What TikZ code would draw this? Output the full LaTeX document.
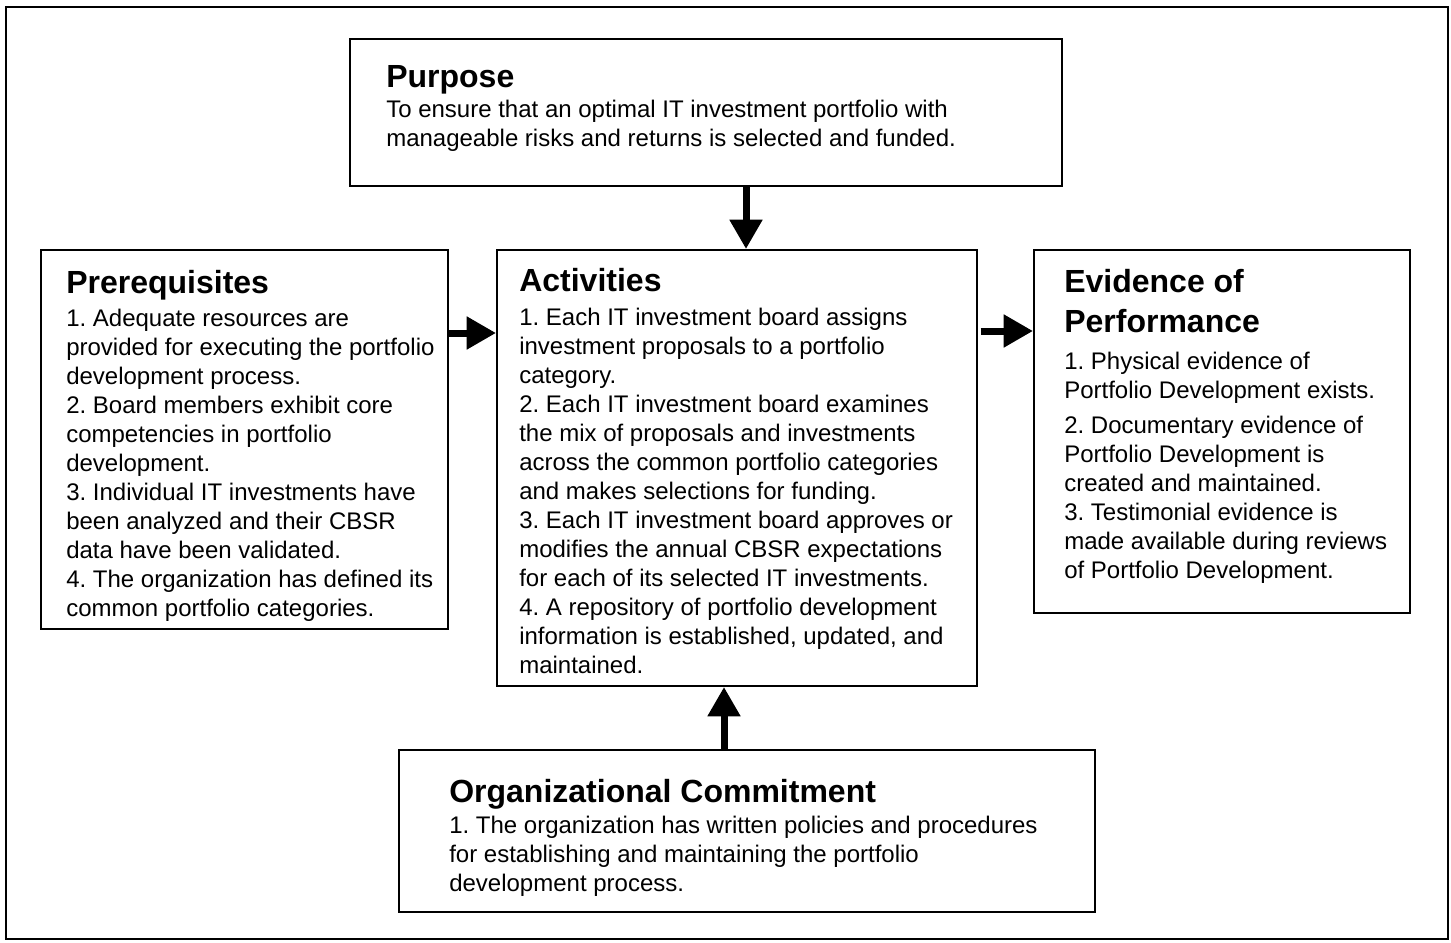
\documentclass[tikz,border=0pt]{standalone}
\usepackage{fontspec}
\setmainfont{Liberation Sans}
\usetikzlibrary{arrows.meta}
\frenchspacing
\tikzset{
  box/.style={draw=black, line width=1.5pt, inner sep=0pt, anchor=north west, rectangle},
  ttl/.style={anchor=base west, inner sep=0pt, font=\fontsize{24}{30}\selectfont\bfseries},
  bdy/.style={anchor=base west, inner sep=0pt, font=\fontsize{18}{21.75}\selectfont},
  bigarrow/.style={line width=5.25pt, -{Triangle[length=22pt,width=23.5pt]}},
}
\begin{document}
\begin{tikzpicture}[x=0.75pt,y=-0.75pt]
\useasboundingbox (0,0) rectangle (1451,942);
% outer frame
\node[box, minimum width=1081.5pt, minimum height=699pt] (frame) at (5,6) {};
% boxes
\node[box, minimum width=534pt, minimum height=110.25pt] (purpose) at (349,38) {};
\node[box, minimum width=305.25pt, minimum height=284.25pt] (prereq) at (40,249) {};
\node[box, minimum width=360pt, minimum height=327pt] (activ) at (496,249) {};
\node[box, minimum width=282pt, minimum height=272.25pt] (evid) at (1033,249) {};
\node[box, minimum width=522pt, minimum height=121.5pt] (org) at (398,749) {};
% purpose
\node[ttl] (purposeT) at (386,87) {Purpose};
\node[bdy] (purposeB) at (386,117) {\begin{tabular}[t]{@{}l@{}}To ensure that an optimal IT investment portfolio with\\
manageable risks and returns is selected and funded.\end{tabular}};
% prerequisites
\node[ttl] (prereqT) at (66,293) {Prerequisites};
\node[bdy] (prereqB) at (66,326) {\begin{tabular}[t]{@{}l@{}}1. Adequate resources are\\
provided for executing the portfolio\\
development process.\\
2. Board members exhibit core\\
competencies in portfolio\\
development.\\
3. Individual IT investments have\\
been analyzed and their CBSR\\
data have been validated.\\
4. The organization has defined its\\
common portfolio categories.\end{tabular}};
% activities
\node[ttl] (activT) at (519,291) {Activities};
\node[bdy] (activB) at (519,325) {\begin{tabular}[t]{@{}l@{}}1. Each IT investment board assigns\\
investment proposals to a portfolio\\
category.\\
2. Each IT investment board examines\\
the mix of proposals and investments\\
across the common portfolio categories\\
and makes selections for funding.\\
3. Each IT investment board approves or\\
modifies the annual CBSR expectations\\
for each of its selected IT investments.\\
4. A repository of portfolio development\\
information is established, updated, and\\
maintained.\end{tabular}};
% evidence
\node[ttl] (evidT) at (1064,292) {\begin{tabular}[t]{@{}l@{}}Evidence of\\Performance\end{tabular}};
\node[bdy] (evidB) at (1064,369) {\begin{tabular}[t]{@{}l@{}}1. Physical evidence of\\
Portfolio Development exists.\\[4.5pt]
2. Documentary evidence of\\
Portfolio Development is\\
created and maintained.\\
3. Testimonial evidence is\\
made available during reviews\\
of Portfolio Development.\end{tabular}};
% organizational commitment
\node[ttl] (orgT) at (449,802) {Organizational Commitment};
\node[bdy] (orgB) at (449,833) {\begin{tabular}[t]{@{}l@{}}1. The organization has written policies and procedures\\
for establishing and maintaining the portfolio\\
development process.\end{tabular}};
% arrows
\coordinate (dx) at (746,0);
\coordinate (ux) at (724,0);
\coordinate (ly) at (0,333);
\coordinate (ry) at (0,331);
\draw[bigarrow] (purpose.south -| dx) -- (activ.north -| dx);
\draw[bigarrow] (prereq.east |- ly) -- (activ.west |- ly);
\draw[bigarrow, shorten <=2pt] (activ.east |- ry) -- (evid.west |- ry);
\draw[bigarrow] (org.north -| ux) -- (activ.south -| ux);
\end{tikzpicture}
\end{document}
